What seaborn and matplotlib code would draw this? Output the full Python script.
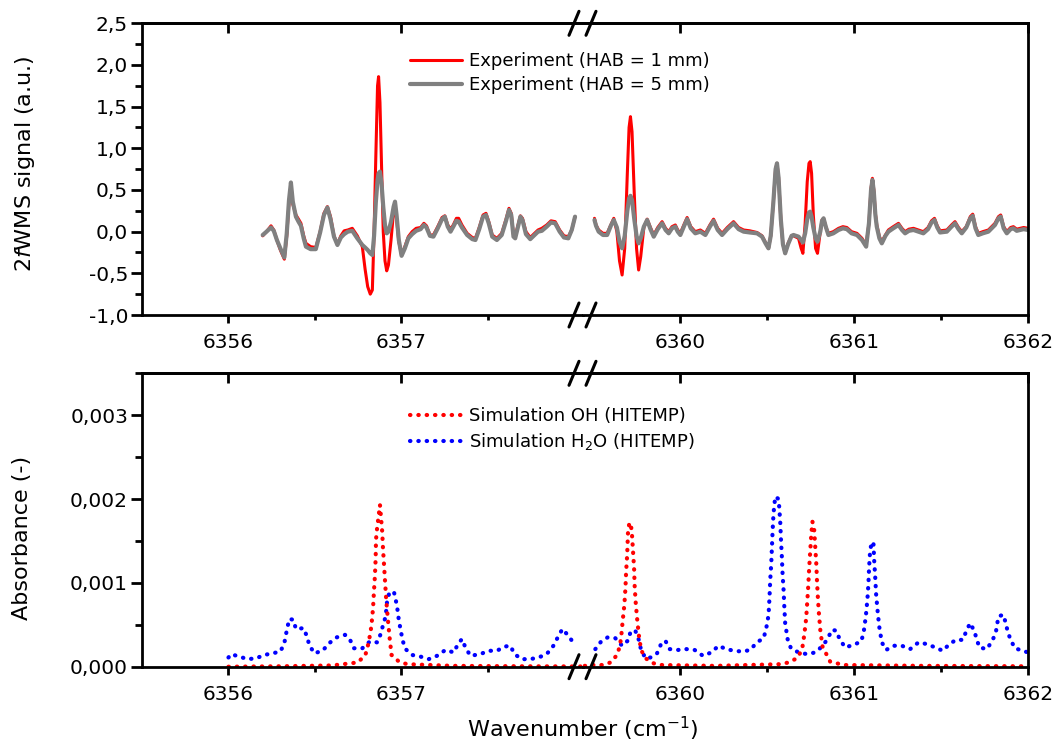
import numpy as np
import matplotlib
matplotlib.use("Agg")
import matplotlib.pyplot as plt
from matplotlib.lines import Line2D
from matplotlib.ticker import FixedLocator, MultipleLocator, FuncFormatter
import seaborn as sns

# ---------------- data ----------------
# top panel, left of the axis break
wn_top_left = [6356.198, 6356.22, 6356.246, 6356.262, 6356.28, 6356.30, 6356.323, 6356.337,
               6356.35, 6356.361, 6356.372, 6356.39, 6356.405, 6356.419, 6356.435, 6356.448,
               6356.475, 6356.505, 6356.53, 6356.552, 6356.572, 6356.59, 6356.61, 6356.63,
               6356.65, 6356.669, 6356.69, 6356.716, 6356.745, 6356.774, 6356.79, 6356.805,
               6356.82, 6356.832, 6356.842, 6356.852, 6356.862, 6356.868, 6356.876, 6356.885,
               6356.895, 6356.905, 6356.915, 6356.925, 6356.94, 6356.955, 6356.963, 6356.972,
               6356.985, 6357.001, 6357.02, 6357.04, 6357.062, 6357.085, 6357.111, 6357.13,
               6357.145, 6357.165, 6357.185, 6357.21, 6357.235, 6357.251, 6357.268, 6357.284,
               6357.30, 6357.318, 6357.331, 6357.35, 6357.38, 6357.41, 6357.428, 6357.45,
               6357.472, 6357.489, 6357.505, 6357.525, 6357.552, 6357.58, 6357.605, 6357.622,
               6357.635, 6357.648, 6357.658, 6357.672, 6357.688, 6357.70, 6357.72, 6357.745,
               6357.77, 6357.79, 6357.812, 6357.84, 6357.865, 6357.889, 6357.915, 6357.94,
               6357.965, 6357.985, 6358.004]
hab1_top_left = [-0.05, 0.00, 0.07, 0.02, -0.10, -0.22, -0.33, -0.05,
                 0.35, 0.56, 0.33, 0.20, 0.15, 0.10, -0.05, -0.14,
                 -0.18, -0.19, 0.00, 0.22, 0.30, 0.18, -0.05, -0.15,
                 -0.05, 0.01, 0.02, 0.04, -0.05, -0.18, -0.45, -0.66,
                 -0.75, -0.70, 0.00, 0.90, 1.75, 1.86, 1.55, 0.80,
                 0.00, -0.35, -0.47, -0.40, -0.10, 0.25, 0.30, 0.15,
                 -0.12, -0.28, -0.18, -0.06, 0.00, 0.04, 0.05, 0.10,
                 0.07, -0.04, -0.04, 0.06, 0.17, 0.19, 0.08, 0.03,
                 0.08, 0.16, 0.16, 0.08, -0.02, -0.07, -0.08, 0.05,
                 0.20, 0.22, 0.12, -0.04, -0.08, -0.02, 0.15, 0.28,
                 0.22, -0.04, -0.06, 0.06, 0.19, 0.16, 0.00, -0.07,
                 -0.02, 0.02, 0.04, 0.08, 0.13, 0.12, 0.02, -0.05,
                 -0.06, 0.02, 0.18]
hab5_top_left = [-0.04, 0.00, 0.05, 0.01, -0.10, -0.20, -0.31, -0.02,
                 0.38, 0.59, 0.36, 0.18, 0.12, 0.07, -0.08, -0.18,
                 -0.21, -0.21, -0.01, 0.20, 0.29, 0.15, -0.06, -0.16,
                 -0.07, -0.03, 0.00, 0.01, -0.08, -0.16, -0.19, -0.22,
                 -0.26, -0.28, -0.05, 0.35, 0.62, 0.70, 0.72, 0.58,
                 0.30, 0.08, -0.02, 0.00, 0.12, 0.30, 0.36, 0.20,
                 -0.10, -0.29, -0.20, -0.08, -0.03, 0.01, 0.03, 0.08,
                 0.05, -0.05, -0.06, 0.04, 0.15, 0.18, 0.06, 0.00,
                 0.06, 0.13, 0.12, 0.05, -0.04, -0.09, -0.10, 0.03,
                 0.18, 0.20, 0.10, -0.06, -0.10, -0.04, 0.13, 0.26,
                 0.20, -0.06, -0.08, 0.04, 0.18, 0.14, -0.03, -0.09,
                 -0.04, 0.00, 0.01, 0.06, 0.11, 0.10, 0.00, -0.07,
                 -0.08, 0.02, 0.18]

# top panel, right of the axis break
wn_top_right = [6359.506, 6359.515, 6359.53, 6359.555, 6359.579, 6359.60, 6359.617, 6359.635,
                6359.65, 6359.665, 6359.68, 6359.695, 6359.705, 6359.713, 6359.722, 6359.735,
                6359.748, 6359.76, 6359.772, 6359.79, 6359.809, 6359.828, 6359.847, 6359.87,
                6359.895, 6359.915, 6359.933, 6359.952, 6359.971, 6359.985, 6360.0, 6360.02,
                6360.039, 6360.06, 6360.086, 6360.115, 6360.144, 6360.17, 6360.191, 6360.215,
                6360.24, 6360.27, 6360.306, 6360.335, 6360.364, 6360.40, 6360.441, 6360.47,
                6360.49, 6360.507, 6360.52, 6360.535, 6360.548, 6360.556, 6360.565, 6360.578,
                6360.59, 6360.603, 6360.62, 6360.64, 6360.651, 6360.68, 6360.695, 6360.705,
                6360.718, 6360.73, 6360.74, 6360.747, 6360.755, 6360.765, 6360.778, 6360.789,
                6360.805, 6360.815, 6360.824, 6360.838, 6360.852, 6360.88, 6360.91, 6360.935,
                6360.958, 6360.985, 6361.016, 6361.045, 6361.069, 6361.085, 6361.097, 6361.105,
                6361.113, 6361.122, 6361.13, 6361.145, 6361.159, 6361.18, 6361.197, 6361.225,
                6361.255, 6361.275, 6361.293, 6361.315, 6361.341, 6361.37, 6361.398, 6361.425,
                6361.445, 6361.462, 6361.478, 6361.494, 6361.533, 6361.56, 6361.58, 6361.60,
                6361.619, 6361.645, 6361.668, 6361.682, 6361.698, 6361.714, 6361.74, 6361.772,
                6361.81, 6361.83, 6361.843, 6361.86, 6361.878, 6361.90, 6361.916, 6361.935,
                6361.954, 6361.975, 6362.0]
hab1_top_right = [0.16, 0.08, 0.02, -0.02, -0.02, 0.08, 0.16, 0.00,
                  -0.35, -0.52, -0.20, 0.70, 1.25, 1.38, 1.20, 0.45,
                  -0.20, -0.46, -0.30, 0.05, 0.15, 0.05, -0.04, 0.05,
                  0.12, 0.04, 0.00, 0.06, 0.08, 0.02, -0.02, 0.08,
                  0.17, 0.06, 0.00, 0.02, -0.02, 0.08, 0.15, 0.04,
                  -0.02, 0.05, 0.12, 0.05, 0.02, 0.01, -0.01, -0.05,
                  -0.13, -0.20, -0.05, 0.35, 0.75, 0.82, 0.65, 0.15,
                  -0.15, -0.26, -0.14, -0.05, -0.05, -0.08, -0.20, -0.26,
                  0.10, 0.60, 0.82, 0.84, 0.70, 0.20, -0.20, -0.26,
                  0.00, 0.14, 0.16, 0.05, -0.02, 0.00, 0.04, 0.06,
                  0.05, 0.00, -0.02, -0.08, -0.16, 0.10, 0.52, 0.64,
                  0.50, 0.22, 0.08, -0.06, -0.12, -0.04, 0.02, 0.06,
                  0.10, 0.04, 0.00, 0.03, 0.04, 0.02, 0.00, 0.05,
                  0.13, 0.16, 0.07, 0.01, 0.02, 0.08, 0.12, 0.05,
                  0.00, 0.06, 0.18, 0.21, 0.06, -0.02, 0.00, 0.02,
                  0.10, 0.18, 0.20, 0.06, 0.00, 0.05, 0.06, 0.03,
                  0.04, 0.05, 0.04]
hab5_top_right = [0.14, 0.07, 0.00, -0.04, -0.04, 0.07, 0.14, 0.05,
                  -0.12, -0.20, -0.05, 0.25, 0.40, 0.43, 0.38, 0.15,
                  -0.05, -0.14, -0.08, 0.06, 0.14, 0.03, -0.06, 0.03,
                  0.10, 0.02, -0.02, 0.04, 0.06, 0.00, -0.04, 0.06,
                  0.15, 0.04, -0.02, 0.00, -0.04, 0.06, 0.13, 0.02,
                  -0.04, 0.03, 0.10, 0.03, 0.00, -0.01, -0.02, -0.06,
                  -0.14, -0.20, -0.05, 0.35, 0.75, 0.82, 0.65, 0.15,
                  -0.15, -0.26, -0.15, -0.05, -0.04, -0.06, -0.10, -0.13,
                  -0.02, 0.15, 0.23, 0.24, 0.18, 0.05, -0.08, -0.12,
                  0.00, 0.13, 0.16, 0.05, -0.04, -0.02, 0.02, 0.04,
                  0.03, -0.02, -0.04, -0.10, -0.18, 0.10, 0.50, 0.62,
                  0.48, 0.20, 0.06, -0.08, -0.14, -0.05, 0.00, 0.04,
                  0.08, 0.02, -0.02, 0.01, 0.02, 0.00, -0.02, 0.03,
                  0.11, 0.14, 0.05, -0.01, 0.00, 0.06, 0.10, 0.03,
                  -0.02, 0.05, 0.16, 0.19, 0.04, -0.04, -0.02, 0.00,
                  0.08, 0.16, 0.18, 0.04, -0.02, 0.03, 0.04, 0.01,
                  0.02, 0.03, 0.02]

# bottom panel, absorbance in units of 1e-3
wn_oh_left = [6356.0, 6356.3, 6356.6, 6356.745, 6356.79, 6356.803, 6356.813, 6356.822,
              6356.828, 6356.836, 6356.841, 6356.847, 6356.851, 6356.853, 6356.857, 6356.876,
              6356.889, 6356.893, 6356.899, 6356.905, 6356.912, 6356.922, 6356.932, 6356.943,
              6356.986, 6357.033, 6357.3, 6357.7, 6358.05]
oh_left = [0.0, 0.005, 0.015, 0.05, 0.13, 0.22, 0.32, 0.42,
           0.52, 0.70, 0.89, 1.09, 1.29, 1.51, 1.61, 1.93,
           1.61, 1.43, 1.23, 1.03, 0.80, 0.56, 0.34, 0.14,
           0.06, 0.03, 0.01, 0.005, 0.003]

wn_oh_right = [6359.45, 6359.50, 6359.55, 6359.598, 6359.636, 6359.651, 6359.659, 6359.668,
               6359.678, 6359.684, 6359.688, 6359.694, 6359.699, 6359.707, 6359.717, 6359.722,
               6359.728, 6359.734, 6359.737, 6359.743, 6359.751, 6359.761, 6359.774, 6359.80,
               6359.847, 6359.895, 6360.2, 6360.575, 6360.622, 6360.67, 6360.70, 6360.713,
               6360.724, 6360.73, 6360.736, 6360.741, 6360.747, 6360.753, 6360.76, 6360.77,
               6360.776, 6360.782, 6360.786, 6360.791, 6360.797, 6360.805, 6360.818, 6360.862,
               6360.94, 6361.4, 6362.0]
oh_right = [0.01, 0.02, 0.02, 0.05, 0.14, 0.24, 0.34, 0.54,
            0.74, 0.93, 1.13, 1.33, 1.61, 1.72, 1.67, 1.57,
            1.37, 1.17, 0.97, 0.77, 0.58, 0.38, 0.20, 0.10,
            0.04, 0.02, 0.01, 0.03, 0.05, 0.10, 0.20, 0.38,
            0.58, 0.77, 0.97, 1.17, 1.37, 1.57, 1.73, 1.63,
            1.43, 1.23, 1.03, 0.83, 0.64, 0.44, 0.24, 0.06,
            0.02, 0.01, 0.005]

wn_h2o_left = [6356.0, 6356.015, 6356.063, 6356.111, 6356.16, 6356.207, 6356.255, 6356.30,
               6356.323, 6356.332, 6356.342, 6356.352, 6356.375, 6356.39, 6356.434, 6356.454,
               6356.467, 6356.496, 6356.544, 6356.582, 6356.626, 6356.674, 6356.703, 6356.726,
               6356.774, 6356.817, 6356.861, 6356.88, 6356.893, 6356.909, 6356.918, 6356.932,
               6356.957, 6356.967, 6356.976, 6356.982, 6356.99, 6356.999, 6357.009, 6357.024,
               6357.062, 6357.111, 6357.158, 6357.206, 6357.255, 6357.303, 6357.327, 6357.35,
               6357.37, 6357.399, 6357.456, 6357.504, 6357.552, 6357.597, 6357.63, 6357.654,
               6357.696, 6357.745, 6357.793, 6357.84, 6357.879, 6357.904, 6357.931, 6357.965,
               6358.0]
h2o_left = [0.11, 0.15, 0.12, 0.09, 0.10, 0.14, 0.16, 0.18,
            0.28, 0.38, 0.48, 0.57, 0.56, 0.45, 0.46, 0.36,
            0.26, 0.16, 0.19, 0.28, 0.35, 0.38, 0.32, 0.22,
            0.22, 0.30, 0.29, 0.39, 0.49, 0.60, 0.80, 0.89,
            0.89, 0.80, 0.70, 0.60, 0.50, 0.40, 0.30, 0.21,
            0.14, 0.12, 0.09, 0.13, 0.20, 0.17, 0.27, 0.33,
            0.23, 0.13, 0.15, 0.19, 0.19, 0.24, 0.25, 0.15,
            0.09, 0.09, 0.11, 0.15, 0.25, 0.35, 0.45, 0.37,
            0.27]

wn_h2o_right = [6359.511, 6359.544, 6359.582, 6359.626, 6359.665, 6359.703, 6359.713, 6359.741,
                6359.761, 6359.774, 6359.80, 6359.828, 6359.866, 6359.889, 6359.914, 6359.939,
                6359.987, 6360.034, 6360.082, 6360.13, 6360.178, 6360.22, 6360.263, 6360.31,
                6360.358, 6360.402, 6360.44, 6360.479, 6360.492, 6360.502, 6360.508, 6360.513,
                6360.517, 6360.523, 6360.527, 6360.531, 6360.536, 6360.546, 6360.565, 6360.569,
                6360.575, 6360.579, 6360.584, 6360.588, 6360.594, 6360.598, 6360.603, 6360.617,
                6360.636, 6360.68, 6360.728, 6360.776, 6360.82, 6360.849, 6360.872, 6360.897,
                6360.916, 6360.948, 6360.996, 6361.04, 6361.054, 6361.067, 6361.076, 6361.082,
                6361.086, 6361.092, 6361.102, 6361.111, 6361.115, 6361.121, 6361.126, 6361.134,
                6361.144, 6361.159, 6361.184, 6361.226, 6361.274, 6361.322, 6361.37, 6361.418,
                6361.466, 6361.51, 6361.548, 6361.586, 6361.625, 6361.644, 6361.667, 6361.69,
                6361.705, 6361.72, 6361.763, 6361.795, 6361.815, 6361.83, 6361.858, 6361.872,
                6361.883, 6361.90, 6361.925, 6361.97, 6362.0]
h2o_right = [0.21, 0.30, 0.35, 0.34, 0.25, 0.32, 0.42, 0.43,
             0.32, 0.20, 0.10, 0.11, 0.16, 0.27, 0.31, 0.21,
             0.20, 0.21, 0.20, 0.13, 0.17, 0.25, 0.21, 0.19,
             0.18, 0.20, 0.29, 0.34, 0.44, 0.54, 0.64, 0.83,
             1.03, 1.23, 1.43, 1.63, 1.83, 2.03, 2.00, 1.90,
             1.71, 1.51, 1.31, 1.11, 0.91, 0.72, 0.52, 0.33,
             0.22, 0.17, 0.15, 0.17, 0.25, 0.34, 0.44, 0.43,
             0.33, 0.23, 0.26, 0.30, 0.40, 0.60, 0.80, 0.99,
             1.19, 1.39, 1.49, 1.47, 1.27, 1.07, 0.87, 0.68,
             0.48, 0.29, 0.20, 0.25, 0.25, 0.21, 0.29, 0.27,
             0.23, 0.19, 0.27, 0.32, 0.32, 0.42, 0.52, 0.43,
             0.33, 0.23, 0.21, 0.31, 0.41, 0.60, 0.62, 0.52,
             0.42, 0.32, 0.22, 0.19, 0.17]

left_majors = [6356, 6357]
left_minors = [6356.5, 6357.5]
right_majors = [6360, 6361, 6362]
right_minors = [6360.5, 6361.5]

# ---------------- style ----------------
sns.set_style("ticks")
plt.rcParams["font.family"] = ["DejaVu Sans"]
plt.rcParams["mathtext.fontset"] = "dejavusans"
plt.rcParams.update({"text.color": "black", "axes.labelcolor": "black",
                     "xtick.color": "black", "ytick.color": "black",
                     "axes.edgecolor": "black"})

W, H = 1060, 753
fig = plt.figure(figsize=(W / 100, H / 100), dpi=100)


def px_axes(x0, y0, x1, y1):
    return fig.add_axes([x0 / W, 1 - y1 / H, (x1 - x0) / W, (y1 - y0) / H])


X_LEFT, X_BREAK, X_RIGHT = 142, 583, 1028
TOP_Y = (23.3, 315)
BOT_Y = (373.3, 666.7)

top_l = px_axes(X_LEFT, TOP_Y[0], X_BREAK, TOP_Y[1])
top_r = px_axes(X_BREAK, TOP_Y[0], X_RIGHT, TOP_Y[1])
bot_l = px_axes(X_LEFT, BOT_Y[0], X_BREAK, BOT_Y[1])
bot_r = px_axes(X_BREAK, BOT_Y[0], X_RIGHT, BOT_Y[1])

RED, GRAY, BLUE = "#ff0000", "#808080", "#0000ff"
LW_RED, LW_GRAY, LW_DOT = 2.2, 3.0, 3.0
DOTS = (0, (0.1, 1.9))

# top panel lines
for ax, wn, r, g in [(top_l, wn_top_left, hab1_top_left, hab5_top_left),
                     (top_r, wn_top_right, hab1_top_right, hab5_top_right)]:
    sns.lineplot(x=wn, y=r, ax=ax, color=RED, linewidth=LW_RED, sort=False, estimator=None)
    sns.lineplot(x=wn, y=g, ax=ax, color=GRAY, linewidth=LW_GRAY, sort=False, estimator=None)

# bottom panel dotted lines
for ax, wo, o, wh, h in [(bot_l, wn_oh_left, oh_left, wn_h2o_left, h2o_left),
                         (bot_r, wn_oh_right, oh_right, wn_h2o_right, h2o_right)]:
    sns.lineplot(x=wh, y=np.array(h) * 1e-3, ax=ax, color=BLUE, linewidth=LW_DOT,
                 linestyle=DOTS, dash_capstyle="round", sort=False, estimator=None)
    sns.lineplot(x=wo, y=np.array(o) * 1e-3, ax=ax, color=RED, linewidth=LW_DOT,
                 linestyle=DOTS, dash_capstyle="round", sort=False, estimator=None)

fmt_top = FuncFormatter(lambda v, p: f"{v:.1f}".replace(".", ","))
fmt_bot = FuncFormatter(lambda v, p: f"{v:.3f}".replace(".", ","))


def style_pair(ax_l, ax_r, ylim, ystep, fmt):
    ax_l.set_xlim(6355.5, 6358.05)
    ax_r.set_xlim(6359.44, 6362.0)
    for ax, majors, minors in [(ax_l, left_majors, left_minors),
                               (ax_r, right_majors, right_minors)]:
        ax.set_ylim(*ylim)
        ax.xaxis.set_major_locator(FixedLocator(majors))
        ax.xaxis.set_minor_locator(FixedLocator(minors))
        ax.xaxis.set_major_formatter(FuncFormatter(lambda v, p: f"{v:.0f}"))
        ax.tick_params(axis="x", which="major", direction="out", length=6, width=2,
                       labelsize=14.5, pad=7, top=False)
        ax.tick_params(axis="x", which="minor", direction="out", length=3.5, width=2, top=False)
        for s in ax.spines.values():
            s.set_linewidth(2)
            s.set_color("black")
        sec = ax.secondary_xaxis("top")
        sec.xaxis.set_major_locator(FixedLocator(majors))
        sec.tick_params(direction="in", length=7, width=2, labeltop=False)
        sec.spines["top"].set_linewidth(2)
        ax.set_xlabel("")
        ax.set_ylabel("")
    ax_l.spines["right"].set_visible(False)
    ax_r.spines["left"].set_visible(False)
    ax_r.tick_params(axis="y", which="both", left=False, right=False, labelleft=False)
    ax_l.yaxis.set_major_locator(MultipleLocator(ystep))
    ax_l.yaxis.set_minor_locator(MultipleLocator(ystep / 2))
    ax_l.yaxis.set_major_formatter(fmt)
    ax_l.tick_params(axis="y", which="major", direction="out", length=8, width=2,
                     labelsize=14.5, pad=2)
    ax_l.tick_params(axis="y", which="minor", direction="out", length=5, width=2)


style_pair(top_l, top_r, (-1.0, 2.5), 0.5, fmt_top)
style_pair(bot_l, bot_r, (0.0, 0.0035), 0.001, fmt_bot)

top_l.set_ylabel(r"2$\mathit{f}$WMS signal (a.u.)", fontsize=16)
top_l.yaxis.set_label_coords(-0.238, 0.52)
bot_l.set_ylabel("Absorbance (-)", fontsize=16)
bot_l.yaxis.set_label_coords(-0.249, 0.44)
fig.text(X_BREAK / W, 1 - 729 / H, r"Wavenumber (cm$^{-1}$)", fontsize=16,
         ha="center", va="center")

# axis-break marks on each horizontal spine
for y in [TOP_Y[0], TOP_Y[1], BOT_Y[0], BOT_Y[1]]:
    for cx in (574, 591):
        fig.add_artist(Line2D([(cx - 5) / W, (cx + 5) / W], [1 - (y + 12) / H, 1 - (y - 12) / H],
                              transform=fig.transFigure, color="black", lw=2.2,
                              solid_capstyle="round"))

# legends
top_handles = [Line2D([], [], color=RED, lw=LW_RED), Line2D([], [], color=GRAY, lw=LW_GRAY)]
fig.legend(top_handles, ["Experiment (HAB = 1 mm)", "Experiment (HAB = 5 mm)"],
           loc="upper left", bbox_to_anchor=(410 / W, 1 - 52 / H), frameon=False,
           fontsize=13, handlelength=2.9, handletextpad=0.35, labelspacing=0.33,
           borderpad=0, borderaxespad=0)
bot_handles = [Line2D([], [], color=RED, lw=LW_DOT, linestyle=DOTS, dash_capstyle="round"),
               Line2D([], [], color=BLUE, lw=LW_DOT, linestyle=DOTS, dash_capstyle="round")]
fig.legend(bot_handles, ["Simulation OH (HITEMP)", "Simulation H$_2$O (HITEMP)"],
           loc="upper left", bbox_to_anchor=(410 / W, 1 - 407 / H), frameon=False,
           fontsize=13, handlelength=2.9, handletextpad=0.35, labelspacing=0.33,
           borderpad=0, borderaxespad=0)

fig.savefig("out.png", dpi=100)
